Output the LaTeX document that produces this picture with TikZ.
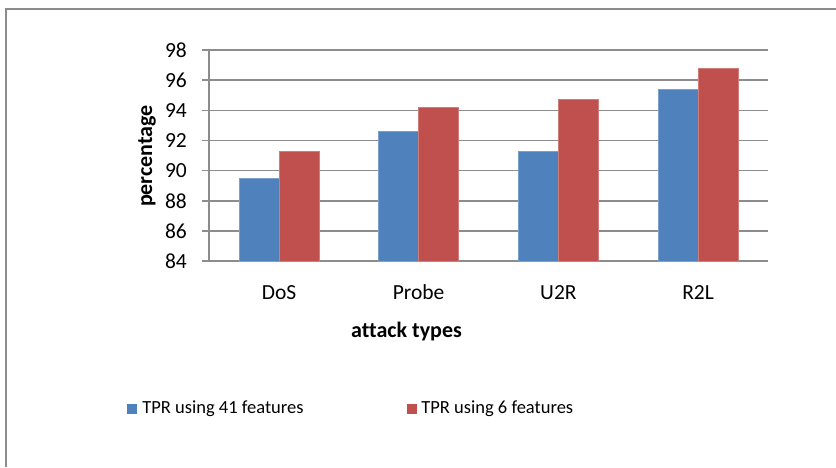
\documentclass[tikz,border=0pt]{standalone}
\usepackage{fontspec}
\setmainfont[Ligatures={NoCommon}]{Carlito}
\usetikzlibrary{positioning}

\definecolor{barblue}{HTML}{4F81BD}
\definecolor{barred}{HTML}{C0504D}
\definecolor{linegray}{HTML}{8C8C8C}

\begin{document}
\begin{tikzpicture}[x=1pt, y=1pt,
    gridline/.style={draw=linegray, line width=1.6pt},
    tprall/.style={fill=barblue, draw=barblue!75!white, line width=0.7pt},
    tprsix/.style={fill=barred, draw=barred!75!white, line width=0.7pt},
    ticklabel/.style={anchor=east, inner sep=0pt, font=\fontsize{21.5}{24}\selectfont},
    catlabel/.style={anchor=base, inner sep=0pt, font=\fontsize{21.5}{24}\selectfont},
    axistitle/.style={inner sep=0pt, font=\fontsize{22}{24}\selectfont\bfseries},
    legendtext/.style={anchor=west, inner sep=0pt, font=\fontsize{18.5}{22}\selectfont},
    legendkey/.style={minimum size=10pt, inner sep=0pt}
]
    \useasboundingbox (0,0) rectangle (836,467);

    % Outer frame
    \draw[gridline] (6,0) -- (6,458) -- (836,458);

    % Plot area: x in pixels from the value axis, y in percent
    \begin{scope}[x=1pt, y=15.07pt, shift={(209pt,-1059.9pt)}]
        % Gridlines and ticks
        \foreach \v in {84,86,...,98} {
            \draw[gridline] (-7,\v) -- (559,\v);
            \node[ticklabel] (tick\v) at (-22,\v) {\v};
        }

        % DoS
        \fill[tprall] (29.9,84) rectangle (69.9,89.5);
        \fill[tprsix] (69.9,84) rectangle (109.9,91.3);

        % Probe
        \fill[tprall] (169.6,84) rectangle (209.6,92.6);
        \fill[tprsix] (209.6,84) rectangle (249.6,94.2);

        % U2R
        \fill[tprall] (309.4,84) rectangle (349.4,91.3);
        \fill[tprsix] (349.4,84) rectangle (389.4,94.7);

        % R2L
        \fill[tprall] (449.1,84) rectangle (489.1,95.4);
        \fill[tprsix] (489.1,84) rectangle (529.1,96.8);

        % Value axis
        \draw[gridline] (0,84) -- (0,98);
    \end{scope}

    % Category labels
    \node[catlabel] (dos) at (279,168) {DoS};
    \node[catlabel] (probe) at (418.6,168) {Probe};
    \node[catlabel] (u2r) at (558.4,168) {U2R};
    \node[catlabel] (r2l) at (698.1,168) {R2L};

    % Axis titles
    \node[axistitle, anchor=base] (xtitle) at (406.5,130) {attack types};
    \node[axistitle, rotate=90] (ytitle) at (147,311) {percentage};

    % Legend
    \node[legendkey, fill=barblue] (key41) at (132,58) {};
    \node[legendtext, right=5pt of key41] (txt41) {TPR using 41 features};
    \node[legendkey, fill=barred] (key6) at (412,58) {};
    \node[legendtext, right=4pt of key6] (txt6) {TPR using 6 features};
\end{tikzpicture}
\end{document}
